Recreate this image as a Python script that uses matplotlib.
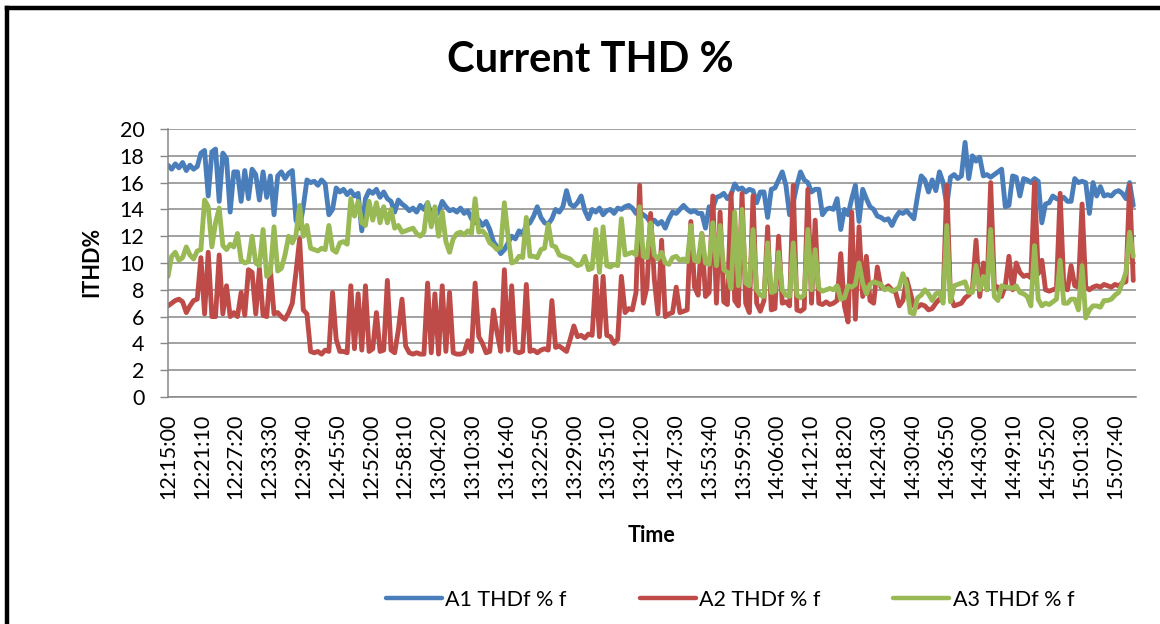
import numpy as np
import matplotlib
matplotlib.use("Agg")
import matplotlib.pyplot as plt
from matplotlib.lines import Line2D

# ---------------- data (one sample every 40 s from 12:15:00) -------------
sample_seconds = 40
a1_thd = [
    17.3, 17.0, 17.4, 17.1, 17.5, 16.9, 17.3, 17.0, 17.2, 18.2,
    18.4, 15.0, 18.3, 18.5, 14.6, 18.2, 17.8, 13.8, 16.8, 16.8,
    14.6, 16.9, 14.8, 17.0, 16.6, 14.7, 16.8, 14.9, 16.5, 13.6,
    16.5, 16.8, 16.3, 16.7, 16.9, 13.2, 12.6, 14.2, 16.2, 16.0,
    16.1, 15.8, 16.2, 15.9, 13.6, 14.0, 15.6, 15.3, 15.5, 15.1,
    15.4, 15.0, 15.2, 12.4, 14.8, 15.4, 15.2, 15.5, 14.9, 15.3,
    14.8, 14.6, 13.8, 14.7, 14.4, 14.2, 13.9, 14.1, 13.8, 14.3,
    14.0, 14.5, 13.6, 13.5, 13.8, 14.6, 14.2, 13.9, 14.0, 13.8,
    14.1, 13.7, 13.9, 13.3, 13.0, 13.2, 12.8, 13.1, 12.5, 11.6,
    11.2, 10.7, 11.0, 11.5, 12.0, 11.8, 12.4, 12.2, 12.8, 13.0,
    13.5, 14.2, 13.4, 13.0, 12.9, 13.3, 14.0, 13.8, 14.2, 15.4,
    14.4, 14.2, 14.5, 15.0, 13.9, 13.3, 14.0, 13.8, 14.1, 13.6,
    13.9, 14.0, 13.7, 14.1, 14.0, 14.2, 14.3, 14.1, 13.7, 13.8,
    13.6, 13.4, 13.0, 13.2, 12.9, 13.1, 12.6, 13.3, 13.8, 13.7,
    14.0, 14.3, 14.0, 13.8, 13.9, 13.7, 13.7, 12.6, 14.2, 14.1,
    14.9, 15.0, 15.2, 14.8, 15.1, 15.9, 15.5, 15.6, 15.3, 15.5,
    15.4, 14.5, 15.3, 15.3, 13.4, 15.5, 15.6, 16.2, 16.8, 15.8,
    13.6, 14.5, 15.8, 16.8, 16.2, 16.0, 15.3, 15.5, 15.5, 13.6,
    14.0, 14.1, 14.0, 14.8, 12.5, 14.0, 13.6, 14.8, 15.8, 13.1,
    15.5, 14.8, 14.2, 14.0, 13.5, 13.4, 13.2, 13.3, 12.8, 13.4,
    13.8, 13.7, 13.9, 13.6, 13.3, 15.0, 16.5, 16.2, 15.3, 16.2,
    15.4, 16.8, 16.0, 14.3, 16.4, 16.6, 16.3, 16.5, 19.0, 16.3,
    18.0, 17.6, 17.9, 16.5, 16.6, 16.4, 16.6, 16.8, 17.0, 14.2,
    14.3, 16.5, 16.4, 15.0, 16.3, 16.2, 16.0, 16.3, 16.1, 13.0,
    14.4, 14.5, 15.0, 14.8, 14.7, 14.9, 14.6, 14.6, 16.3, 16.0,
    16.1, 16.0, 13.7, 16.0, 15.0, 15.7, 15.0, 15.1, 15.0, 15.3,
    15.4, 15.2, 14.8, 16.0, 14.3,
]
a2_thd = [
    6.8, 7.0, 7.2, 7.3, 7.1, 6.3, 6.8, 7.2, 7.3, 10.4,
    6.2, 10.8, 6.0, 6.0, 10.6, 6.2, 8.3, 6.0, 6.3, 6.0,
    7.8, 6.1, 9.5, 9.3, 6.2, 9.6, 6.1, 6.0, 9.5, 6.2,
    6.3, 6.0, 5.8, 6.3, 7.0, 9.3, 11.8, 6.5, 6.2, 3.4,
    3.3, 3.4, 3.2, 3.5, 3.4, 7.8, 4.3, 3.4, 3.4, 3.3,
    8.3, 3.6, 7.7, 3.5, 8.3, 3.4, 3.6, 6.3, 3.4, 3.5,
    8.7, 3.5, 3.3, 5.0, 7.3, 3.8, 3.3, 3.2, 3.3, 3.2,
    3.2, 8.5, 3.3, 7.7, 3.2, 8.3, 3.4, 7.8, 3.3, 3.2,
    3.2, 3.3, 4.2, 3.4, 8.5, 4.5, 4.0, 3.3, 3.4, 6.5,
    4.8, 3.4, 9.5, 3.5, 8.3, 3.4, 3.3, 3.4, 8.4, 3.4,
    3.5, 3.3, 3.5, 3.6, 3.5, 7.2, 3.7, 3.8, 3.6, 3.4,
    4.3, 5.3, 4.5, 4.6, 4.4, 4.7, 4.6, 9.0, 4.5, 9.0,
    4.6, 4.5, 4.0, 4.3, 9.0, 6.3, 6.6, 6.5, 7.8, 15.8,
    7.0, 8.2, 13.7, 8.8, 6.2, 11.7, 6.0, 6.2, 6.3, 8.2,
    6.3, 6.4, 6.5, 13.1, 8.2, 7.6, 12.2, 7.5, 7.8, 15.0,
    7.0, 13.8, 7.1, 6.9, 15.2, 7.2, 6.8, 15.2, 7.0, 6.3,
    15.0, 7.0, 6.4, 7.2, 12.7, 6.5, 6.6, 12.0, 7.0, 7.1,
    6.8, 15.8, 6.5, 6.4, 6.6, 15.5, 7.0, 13.2, 7.0, 6.9,
    7.1, 6.9, 7.0, 7.2, 10.7, 6.8, 5.6, 13.8, 5.8, 12.7,
    7.5, 10.5, 7.2, 7.0, 9.7, 8.2, 8.1, 8.3, 8.0, 7.8,
    6.8, 7.2, 8.8, 7.8, 6.8, 6.7, 6.9, 6.8, 6.5, 6.6,
    7.0, 7.3, 7.4, 15.8, 7.5, 6.8, 6.9, 7.0, 7.4, 7.6,
    8.0, 11.7, 7.5, 10.0, 8.0, 16.0, 8.3, 8.2, 7.5, 8.3,
    10.5, 8.0, 10.0, 9.3, 9.0, 9.1, 8.9, 16.0, 9.2, 10.2,
    8.0, 7.9, 8.0, 8.1, 15.2, 8.2, 8.0, 9.8, 8.3, 8.2,
    14.4, 8.2, 8.0, 8.2, 8.3, 8.2, 8.4, 8.3, 8.2, 8.4,
    8.3, 8.5, 8.6, 15.8, 8.7,
]
a3_thd = [
    9.0, 10.5, 10.8, 10.2, 10.4, 11.2, 10.6, 10.3, 10.9, 11.0,
    14.7, 14.2, 11.2, 13.0, 14.1, 11.3, 11.0, 11.4, 11.2, 12.2,
    10.2, 10.0, 10.1, 12.0, 10.0, 9.8, 12.5, 9.0, 9.3, 12.7,
    9.4, 9.6, 10.6, 12.0, 11.5, 12.1, 14.3, 12.0, 12.8, 11.1,
    11.0, 10.9, 11.1, 11.0, 12.8, 11.0, 10.8, 11.5, 11.6, 11.4,
    14.8, 13.5, 14.6, 13.0, 12.8, 14.6, 13.2, 14.5, 13.0, 14.2,
    13.0, 14.0, 12.6, 12.8, 12.3, 12.4, 12.5, 12.6, 12.2, 12.0,
    12.3, 14.5, 12.7, 14.2, 12.0, 13.8, 11.6, 10.8, 11.8, 12.2,
    12.3, 12.1, 12.4, 12.2, 14.8, 12.3, 12.4, 12.1, 11.5, 11.3,
    11.0, 11.2, 14.5, 12.0, 10.0, 10.1, 10.5, 10.4, 13.4, 10.5,
    10.5, 10.4, 11.0, 11.1, 12.9, 11.3, 11.2, 10.6, 10.5, 10.4,
    10.3, 10.0, 9.8, 9.9, 10.5, 9.5, 9.6, 12.5, 9.3, 12.7,
    9.8, 9.7, 9.9, 9.8, 13.3, 10.6, 10.7, 10.8, 10.6, 14.2,
    10.5, 10.4, 13.0, 10.6, 10.3, 10.8, 10.0, 9.9, 10.4, 10.5,
    10.2, 10.3, 10.1, 12.8, 10.2, 10.1, 12.2, 10.0, 9.9, 13.0,
    9.8, 12.8, 9.5, 9.3, 8.1, 13.8, 8.3, 14.0, 8.5, 8.3,
    12.5, 8.0, 7.6, 7.5, 11.5, 7.8, 7.9, 10.8, 8.0, 7.6,
    7.5, 11.5, 7.6, 7.4, 7.6, 12.5, 8.0, 11.0, 8.1, 7.9,
    8.0, 8.1, 8.0, 8.3, 7.3, 7.4, 8.3, 8.2, 8.4, 10.0,
    8.5, 7.7, 8.4, 8.6, 8.5, 8.4, 8.0, 8.1, 7.9, 8.0,
    8.2, 9.2, 8.4, 6.3, 6.2, 7.4, 7.6, 8.0, 7.7, 7.2,
    7.7, 7.8, 7.0, 12.8, 7.1, 8.3, 8.4, 8.5, 8.6, 7.8,
    7.8, 9.8, 8.0, 9.0, 8.0, 12.5, 7.5, 7.2, 8.3, 8.2,
    8.2, 8.1, 8.3, 7.8, 7.7, 7.5, 6.8, 11.3, 7.3, 6.8,
    7.0, 6.9, 7.1, 7.3, 10.2, 7.0, 7.0, 7.3, 7.3, 6.5,
    9.8, 5.9, 6.5, 6.8, 6.8, 6.7, 7.2, 7.2, 7.3, 7.6,
    7.8, 8.5, 9.3, 12.3, 10.5,
]
series_names = ["A1 THDf % f", "A2 THDf % f", "A3 THDf % f"]
tick_step_seconds = 370
tick_labels = [
    "12:15:00", "12:21:10", "12:27:20", "12:33:30", "12:39:40", "12:45:50",
    "12:52:00", "12:58:10", "13:04:20", "13:10:30", "13:16:40", "13:22:50",
    "13:29:00", "13:35:10", "13:41:20", "13:47:30", "13:53:40", "13:59:50",
    "14:06:00", "14:12:10", "14:18:20", "14:24:30", "14:30:40", "14:36:50",
    "14:43:00", "14:49:10", "14:55:20", "15:01:30", "15:07:40",
]
span_seconds = 10590

# ---------------- styling ----------------
FONT = "Lato"
colors = ["#4A7EBB", "#BE4B48", "#98B954"]
grid_color = "#878787"
W, H = 1160, 624

fig = plt.figure(figsize=(W / 100, H / 100), dpi=100)
fig.patch.set_facecolor("white")
ax = fig.add_axes([168 / W, 1 - 397 / H, (1136 - 168) / W, (397 - 129) / H])

t = np.arange(len(a1_thd)) * sample_seconds
for vals, col, name in zip([a1_thd, a2_thd, a3_thd], colors, series_names):
    ax.plot(t, vals, color=col, lw=3.5, label=name, solid_joinstyle="round",
            solid_capstyle="round")

ax.set_xlim(0, span_seconds)
ax.set_ylim(0, 20)
ax.set_yticks(np.arange(0, 21, 2))
ax.set_xticks(np.arange(len(tick_labels)) * tick_step_seconds)
ax.set_xticklabels(tick_labels, rotation=90, fontsize=15.5, family=FONT)
ax.tick_params(axis="x", length=0, pad=12)
ax.tick_params(axis="y", length=6, width=1.0, color=grid_color, pad=11,
               labelsize=15.5)
for lab in ax.get_yticklabels():
    lab.set_family(FONT)
ax.yaxis.grid(True, color=grid_color, lw=1.1)
ax.set_axisbelow(True)
for s in ["top", "right"]:
    ax.spines[s].set_visible(False)
for s in ["left", "bottom"]:
    ax.spines[s].set_color(grid_color)
    ax.spines[s].set_linewidth(1.1)

fig.text(590 / W, 1 - 60 / H, "Current THD %", ha="center", va="center",
         fontsize=30, fontweight="bold", family=FONT)
fig.text(92 / W, 1 - 262 / H, "ITHD%", ha="center", va="center", rotation=90,
         fontsize=15.5, fontweight="bold", family=FONT)
fig.text(651 / W, 1 - 535 / H, "Time", ha="center", va="center",
         fontsize=15.5, fontweight="bold", family=FONT)

handles = [Line2D([], [], color=c, lw=3.2, solid_capstyle="round") for c in colors]
fig.legend(handles, series_names, loc="center", bbox_to_anchor=(730 / W, 1 - 600 / H),
           ncol=3, frameon=False, prop={"family": FONT, "size": 15.5},
           handlelength=2.6, handletextpad=0.15, columnspacing=3.4)

# outer chart frame (left and top edges visible)
fig.add_artist(Line2D([7 / W, 7 / W], [0, 1 - 8 / H], color="black", lw=3.2,
                      transform=fig.transFigure))
fig.add_artist(Line2D([7 / W, 1], [1 - 8 / H, 1 - 8 / H], color="black", lw=3.2,
                      transform=fig.transFigure))

fig.savefig("out.png", dpi=100)
